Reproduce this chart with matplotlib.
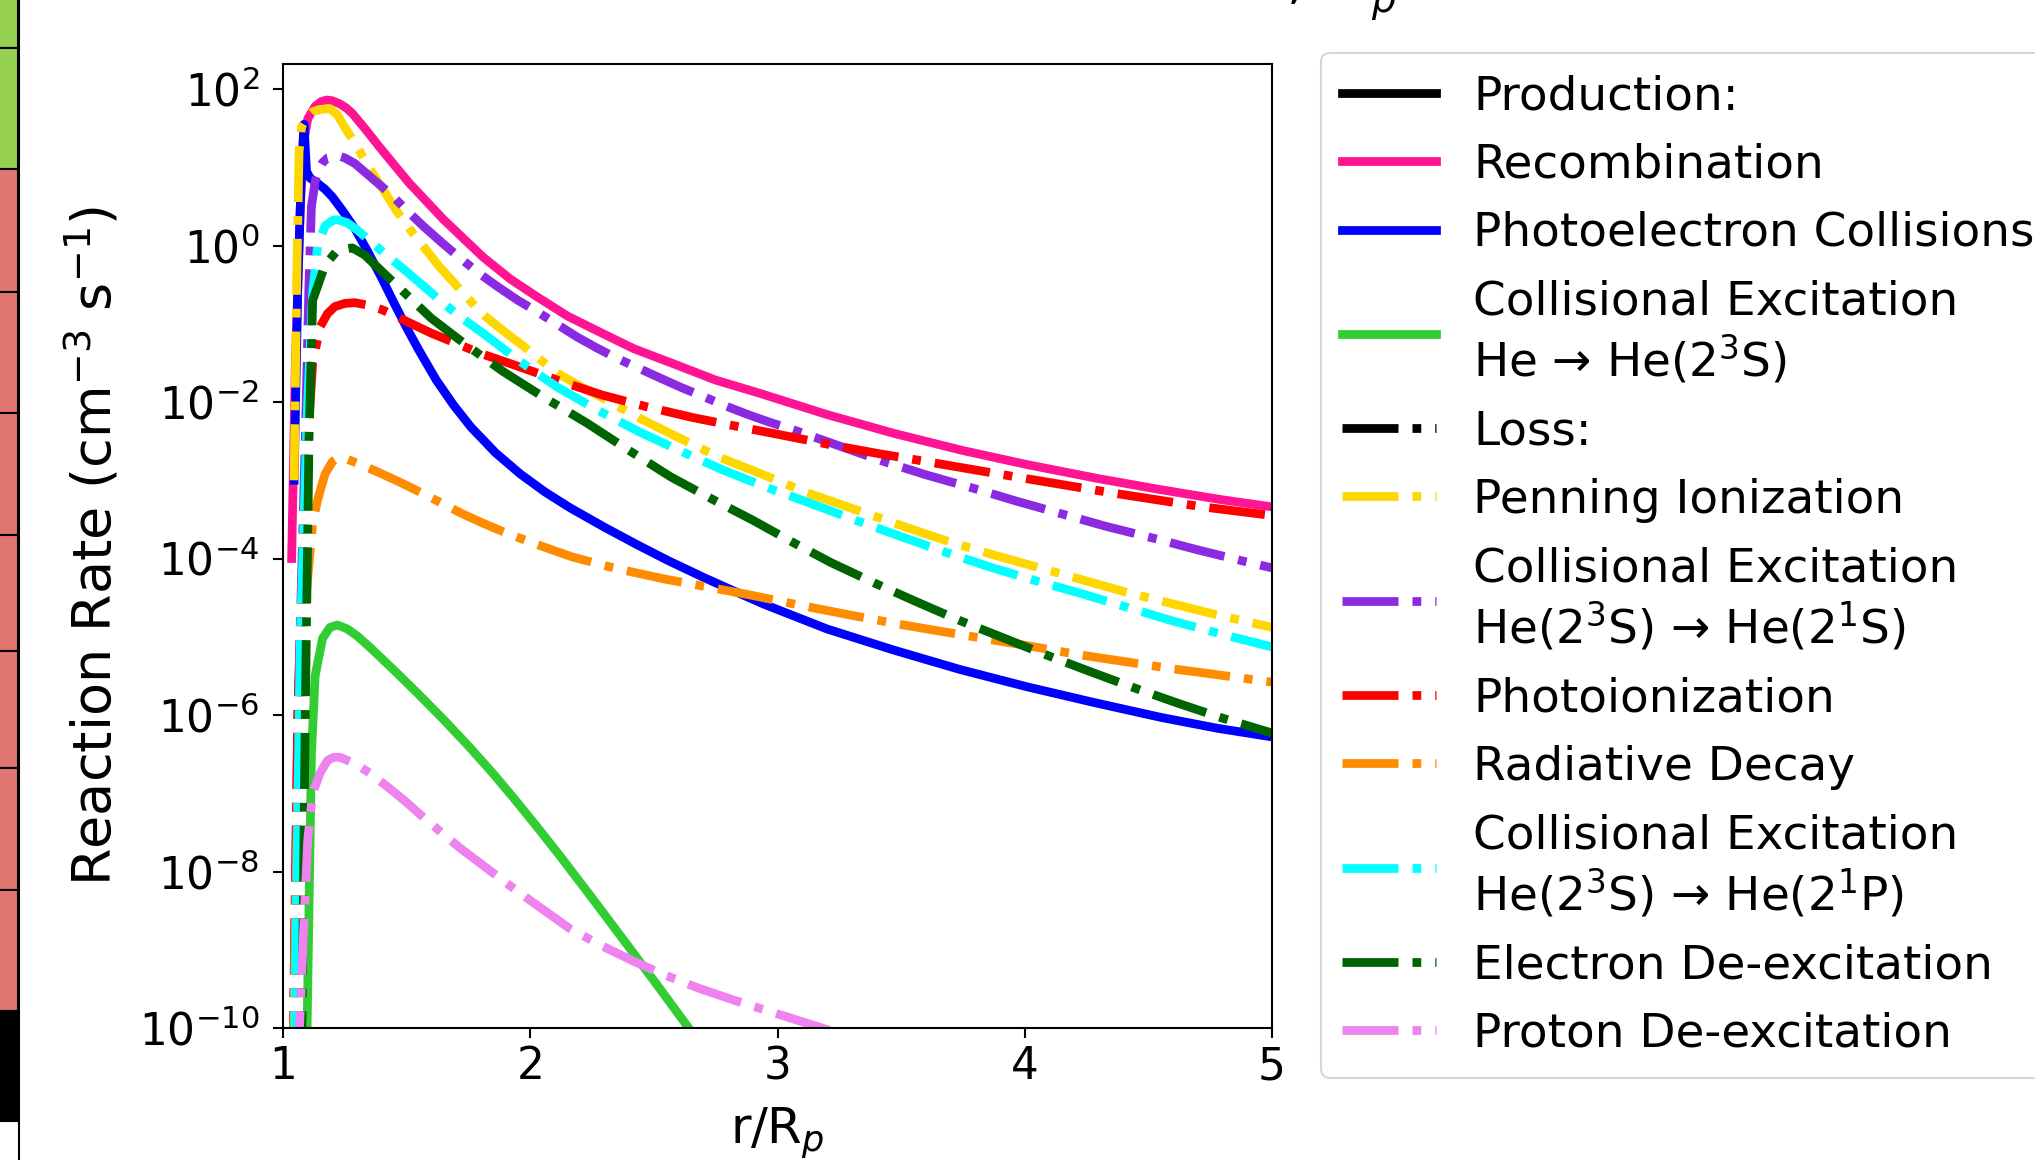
import matplotlib
matplotlib.use("Agg")
import matplotlib.pyplot as plt
import numpy as np
from matplotlib.lines import Line2D
from matplotlib.patches import Rectangle
from matplotlib.ticker import FixedLocator, NullLocator, LogFormatterMathtext

# ---------------- data (r / R_p, log10 of reaction rate in cm^-3 s^-1) ----------------
recomb_r = [1.035, 1.05, 1.07, 1.085, 1.10, 1.13, 1.155, 1.177, 1.20, 1.23, 1.255, 1.28, 1.33, 1.39, 1.45, 1.51, 1.58,
            1.65, 1.73, 1.81, 1.92, 2.03, 2.15, 2.29, 2.42, 2.57, 2.75, 2.93, 3.2, 3.47, 3.75, 4.01, 4.3, 4.55, 4.8, 5.0]
recomb_l = [-4.0, -1.5, 0.5, 1.35, 1.62, 1.78, 1.84, 1.86, 1.85, 1.81, 1.76, 1.69, 1.50, 1.26, 1.03, 0.80, 0.565,
            0.33, 0.09, -0.15, -0.43, -0.66, -0.90, -1.12, -1.32, -1.50, -1.72, -1.89, -2.16, -2.40, -2.62, -2.80, -2.98, -3.12, -3.25, -3.34]

photoel_r = [1.045, 1.06, 1.075, 1.085, 1.095, 1.11, 1.13, 1.17, 1.20, 1.24, 1.29, 1.34, 1.40, 1.45, 1.50, 1.55, 1.62,
             1.69, 1.76, 1.86, 1.96, 2.06, 2.16, 2.30, 2.43, 2.56, 2.70, 2.82, 2.95, 3.2, 3.47, 3.74, 4.01, 4.28, 4.55, 4.78, 5.0]
photoel_l = [-3.0, -0.5, 1.0, 1.55, 0.95, 0.86, 0.82, 0.72, 0.62, 0.45, 0.22, -0.06, -0.42, -0.74, -1.05, -1.34, -1.72,
             -2.04, -2.32, -2.65, -2.92, -3.15, -3.35, -3.60, -3.82, -4.03, -4.24, -4.41, -4.59, -4.90, -5.17, -5.42, -5.64, -5.84, -6.03, -6.17, -6.28]

collex_r = [1.095, 1.105, 1.115, 1.13, 1.16, 1.19, 1.22, 1.26, 1.30, 1.35, 1.45, 1.55, 1.65, 1.76, 1.85, 1.93, 2.02,
            2.12, 2.26, 2.40, 2.52, 2.65]
collex_l = [-10.5, -8.5, -6.5, -5.5, -5.02, -4.88, -4.85, -4.90, -4.99, -5.13, -5.43, -5.74, -6.06, -6.43, -6.75, -7.05, -7.40,
            -7.80, -8.38, -8.97, -9.48, -10.04]

penning_r = [1.045, 1.055, 1.065, 1.075, 1.10, 1.12, 1.15, 1.19, 1.22, 1.25, 1.30, 1.35, 1.40, 1.46, 1.515, 1.57, 1.63,
             1.69, 1.755, 1.82, 1.895, 1.97, 2.045, 2.12, 2.21, 2.30, 2.45, 2.61, 2.76, 2.92, 3.12, 3.33, 3.51, 3.69,
             3.87, 4.05, 4.23, 4.41, 4.60, 4.79, 5.0]
penning_l = [-3.0, -0.5, 1.2, 1.52, 1.65, 1.71, 1.74, 1.75, 1.67, 1.51, 1.26, 0.99, 0.74, 0.44, 0.20, -0.02, -0.26,
             -0.47, -0.70, -0.91, -1.10, -1.28, -1.47, -1.65, -1.81, -1.96, -2.22, -2.47, -2.70, -2.90, -3.16, -3.39, -3.59, -3.78,
             -3.95, -4.11, -4.27, -4.43, -4.58, -4.73, -4.88]

ce21s_r = [1.04, 1.06, 1.09, 1.105, 1.115, 1.13, 1.14, 1.16, 1.18, 1.22, 1.25, 1.29, 1.36, 1.44, 1.50, 1.57, 1.645,
           1.72, 1.795, 1.87, 1.95, 2.03, 2.11, 2.19, 2.27, 2.35, 2.44, 2.53, 2.615, 2.70, 2.79, 2.88, 2.97, 3.06,
           3.24, 3.42, 3.60, 3.79, 3.97, 4.15, 4.33, 4.52, 4.70, 4.88, 5.0]
ce21s_l = [-10.5, -6.0, -2.5, -0.5, 0.5, 0.82, 0.95, 1.06, 1.12, 1.15, 1.12, 1.05, 0.86, 0.645, 0.45, 0.24, 0.03,
           -0.17, -0.36, -0.53, -0.70, -0.85, -1.01, -1.17, -1.31, -1.44, -1.57, -1.70, -1.82, -1.93, -2.05, -2.16, -2.26, -2.35,
           -2.55, -2.75, -2.93, -3.10, -3.27, -3.43, -3.59, -3.74, -3.89, -4.03, -4.12]

photoion_r = [1.04, 1.06, 1.09, 1.12, 1.15, 1.18, 1.21, 1.25, 1.29, 1.34, 1.40, 1.45, 1.50, 1.60, 1.70, 1.80, 1.92,
              2.11, 2.29, 2.47, 2.66, 2.85, 3.03, 3.22, 3.41, 3.60, 3.785, 3.97, 4.16, 4.35, 4.535, 4.72, 5.0]
photoion_l = [-10.5, -6.0, -3.0, -1.5, -1.04, -0.87, -0.78, -0.74, -0.73, -0.76, -0.82, -0.89, -0.97, -1.12, -1.25, -1.38, -1.51,
              -1.72, -1.91, -2.06, -2.20, -2.32, -2.43, -2.55, -2.66, -2.76, -2.86, -2.96, -3.06, -3.16, -3.25, -3.34, -3.45]

raddecay_r = [1.04, 1.06, 1.09, 1.12, 1.14, 1.17, 1.20, 1.22, 1.25, 1.30, 1.38, 1.47, 1.56, 1.64, 1.72, 1.81, 1.90,
              2.0, 2.08, 2.17, 2.35, 2.54, 2.71, 2.88, 3.08, 3.29, 3.475, 3.66, 3.85, 4.04, 4.22, 4.41, 4.60, 4.79, 5.0]
raddecay_l = [-10.5, -7.0, -4.6, -3.55, -3.25, -2.92, -2.76, -2.72, -2.72, -2.78, -2.89, -3.02, -3.16, -3.29, -3.42, -3.55, -3.67,
              -3.79, -3.88, -3.98, -4.13, -4.26, -4.36, -4.46, -4.59, -4.72, -4.83, -4.93, -5.03, -5.13, -5.23, -5.32, -5.41, -5.49, -5.58]

ce21p_r = [1.045, 1.07, 1.10, 1.12, 1.14, 1.17, 1.20, 1.22, 1.26, 1.30, 1.35, 1.43, 1.51, 1.58, 1.65, 1.72, 1.80,
           1.875, 1.95, 2.03, 2.11, 2.27, 2.44, 2.61, 2.78, 2.955, 3.13, 3.315, 3.50, 3.68, 3.86, 4.04, 4.22, 4.40,
           4.59, 4.80, 5.0]
ce21p_l = [-10.5, -5.0, -2.0, -0.6, 0.0, 0.25, 0.32, 0.33, 0.29, 0.20, 0.06, -0.15, -0.36, -0.55, -0.74, -0.92, -1.10,
           -1.28, -1.46, -1.64, -1.81, -2.10, -2.38, -2.63, -2.87, -3.09, -3.29, -3.51, -3.72, -3.92, -4.11, -4.28, -4.44, -4.61,
           -4.79, -4.97, -5.13]

edeex_r = [1.075, 1.09, 1.105, 1.12, 1.17, 1.22, 1.28, 1.33, 1.38, 1.49, 1.60, 1.745, 1.89, 2.06, 2.23, 2.40, 2.57,
           2.735, 2.90, 3.06, 3.215, 3.39, 3.56, 3.735, 3.91, 4.085, 4.26, 4.44, 4.62, 4.80, 5.0]
edeex_l = [-10.5, -6.0, -2.5, -0.7, -0.25, -0.06, -0.03, -0.12, -0.27, -0.60, -0.93, -1.28, -1.61, -1.95, -2.27, -2.62, -2.96,
           -3.24, -3.51, -3.79, -4.05, -4.31, -4.55, -4.79, -5.01, -5.23, -5.44, -5.65, -5.85, -6.04, -6.23]

pdeex_r = [1.06, 1.08, 1.10, 1.12, 1.15, 1.18, 1.205, 1.23, 1.29, 1.35, 1.42, 1.49, 1.565, 1.64, 1.72, 1.80, 1.90,
           2.0, 2.08, 2.16, 2.29, 2.42, 2.55, 2.68, 2.82, 2.96, 3.14, 3.30]
pdeex_l = [-10.5, -9.0, -7.6, -7.0, -6.74, -6.58, -6.54, -6.54, -6.62, -6.74, -6.91, -7.09, -7.30, -7.50, -7.71, -7.90, -8.14,
           -8.37, -8.55, -8.73, -8.95, -9.15, -9.33, -9.49, -9.64, -9.78, -9.96, -10.12]

production_series = [
    ("Recombination", recomb_r, recomb_l, "deeppink"),
    ("Photoelectron Collisions", photoel_r, photoel_l, "blue"),
    ("Collisional Excitation\nHe \u2192 He(2$^3$S)", collex_r, collex_l, "limegreen"),
]
loss_series = [
    ("Penning Ionization", penning_r, penning_l, "gold"),
    ("Collisional Excitation\nHe(2$^3$S) \u2192 He(2$^1$S)", ce21s_r, ce21s_l, "blueviolet"),
    ("Photoionization", photoion_r, photoion_l, "red"),
    ("Radiative Decay", raddecay_r, raddecay_l, "darkorange"),
    ("Collisional Excitation\nHe(2$^3$S) \u2192 He(2$^1$P)", ce21p_r, ce21p_l, "cyan"),
    ("Electron De-excitation", edeex_r, edeex_l, "darkgreen"),
    ("Proton De-excitation", pdeex_r, pdeex_l, "violet"),
]

ytick_exps = [-10, -8, -6, -4, -2, 0, 2]
xticks = [1, 2, 3, 4, 5]

# ---------------- figure ----------------
W, H, DPI = 2035, 1160, 150
fig = plt.figure(figsize=(W / DPI, H / DPI), dpi=DPI)
fig.patch.set_facecolor("white")

def fx(px):
    return px / W

def fy(py):
    return 1 - py / H

# left strip (edge of a neighbouring panel)
strip_cells = [(-80, 48, "#96d050"), (48, 169, "#96d050"),
               (169, 292, "#e07670"), (292, 413, "#e07670"), (413, 535, "#e07670"),
               (535, 651, "#e07670"), (651, 768, "#e07670"), (768, 890, "#e07670"),
               (890, 1011, "#e07670"), (1011, 1121, "black")]
for top, bot, col in strip_cells:
    fig.add_artist(Rectangle((fx(-5), fy(bot)), fx(23), fy(top) - fy(bot),
                             transform=fig.transFigure, facecolor=col,
                             edgecolor="black", linewidth=1.0))
fig.add_artist(Line2D([fx(18.5), fx(18.5)], [0, 1], transform=fig.transFigure,
                      color="black", linewidth=1.0))

# cut-off title fragments at the top edge
fig.text(fx(1287), fy(-1.5), ",", fontsize=26, ha="left", va="baseline")
fig.text(fx(1371), fy(12), "$p$", fontsize=18.5, ha="left", va="baseline")

ax = fig.add_axes([fx(283), fy(1028), fx(1272) - fx(283), fy(64) - fy(1028)])

LW = 4.2
handles = [Line2D([], [], color="black", lw=LW, ls="-")]
labels = ["Production:"]
for lab, r, l, col in production_series:
    ln, = ax.plot(r, 10.0 ** np.array(l), color=col, lw=LW, ls="-")
    handles.append(ln)
    labels.append(lab)
handles.append(Line2D([], [], color="black", lw=LW, ls="-."))
labels.append("Loss:")
for lab, r, l, col in loss_series:
    ln, = ax.plot(r, 10.0 ** np.array(l), color=col, lw=LW, ls="-.")
    handles.append(ln)
    labels.append(lab)

ax.set_yscale("log")
ax.set_xlim(1, 5)
ax.set_ylim(1e-10, 10 ** 2.32)
ax.yaxis.set_major_locator(FixedLocator([10.0 ** e for e in ytick_exps]))
ax.yaxis.set_major_formatter(LogFormatterMathtext())
ax.yaxis.set_minor_locator(NullLocator())
ax.set_xticks(xticks)
ax.set_xticklabels([str(t) for t in xticks])
ax.xaxis.set_minor_locator(NullLocator())
ax.tick_params(labelsize=21, length=4.8, width=1.0)
ax.tick_params(axis="y", pad=6.5)
for sp in ax.spines.values():
    sp.set_linewidth(1.0)

ax.set_xlabel("r/R$_p$", fontsize=24, labelpad=8.5)
ax.set_ylabel("Reaction Rate (cm$^{-3}$ s$^{-1}$)", fontsize=26, labelpad=8)

fig.legend(handles, labels, loc="upper left",
           bbox_to_anchor=(fx(1321), fy(53)), bbox_transform=fig.transFigure,
           borderaxespad=0, borderpad=0.45, fontsize=22.5, frameon=True)

fig.savefig("out.png", dpi=DPI)
